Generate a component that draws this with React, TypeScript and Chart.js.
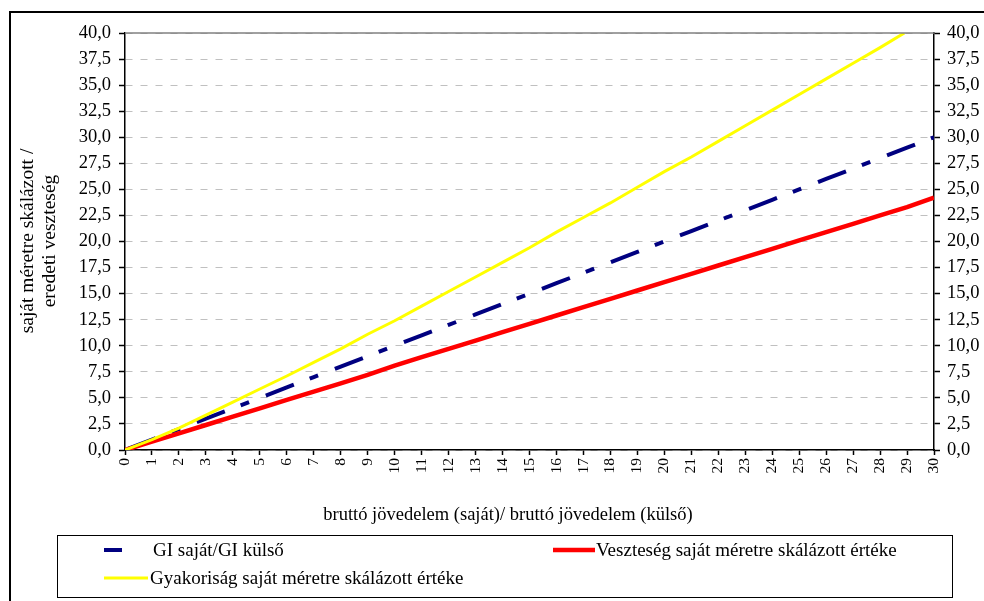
import React, { useEffect, useRef } from "react";
import { Chart, registerables } from "chart.js";

Chart.register(...registerables);

const W = 984;
const H = 601;
const SERIF = "'Liberation Serif', 'Times New Roman', serif";

// Own / external gross income ratio (x values)
const incomeRatio = [0, 1, 2, 3, 4, 5, 6, 7, 8, 9, 10, 11, 12, 13, 14, 15, 16, 17, 18, 19, 20, 21, 22, 23, 24, 25, 26, 27, 28, 29, 30];

// GI saját/GI külső
const giRatio = [0, 1, 2, 3, 4, 5, 6, 7, 8, 9, 10, 11, 12, 13, 14, 15, 16, 17, 18, 19, 20, 21, 22, 23, 24, 25, 26, 27, 28, 29, 30];

// Veszteség saját méretre skálázott értéke
const lossScaled = [0, 0.8, 1.6, 2.4, 3.2, 4.0, 4.8, 5.6, 6.4, 7.2, 8.1, 8.9, 9.7, 10.5, 11.3, 12.1, 12.9, 13.7, 14.5, 15.3, 16.1, 16.9, 17.7, 18.5, 19.3, 20.1, 20.9, 21.7, 22.5, 23.3, 24.2];

// Gyakoriság saját méretre skálázott értéke (reaches the top of the axis just before 29)
const freqRatio = [0, 1, 2, 3, 4, 5, 6, 7, 8, 9, 10, 11, 12, 13, 14, 15, 16, 17, 18, 19, 20, 21, 22, 23, 24, 25, 26, 27, 28, 28.9];
const freqScaled = [0, 1.0, 2.1, 3.35, 4.6, 5.85, 7.1, 8.4, 9.7, 11.1, 12.4, 13.8, 15.2, 16.6, 18.0, 19.4, 20.9, 22.3, 23.7, 25.2, 26.7, 28.1, 29.6, 31.1, 32.6, 34.1, 35.6, 37.1, 38.6, 40.0];

const seriesNames = [
  "GI saját/GI külső",
  "Veszteség saját méretre skálázott értéke",
  "Gyakoriság saját méretre skálázott értéke",
];
const seriesColors = ["#000080", "#ff0000", "#ffff00"];
const seriesWidths = [4, 4.5, 3];
const giDash = [30, 17, 9, 18];

const yMin = 0;
const yMax = 40;
const yStep = 2.5;
const xMin = 0;
const xMax = 30;
const xStep = 1;

const xTitle = "bruttó jövedelem (saját)/ bruttó jövedelem (külső)";
const yTitleLines = ["saját méretre skálázott /", "eredeti veszteség"];

const toPoints = (xs: number[], ys: number[]) => xs.map((x, i) => ({ x, y: ys[i] }));
const commaDecimal = (v: number | string) => Number(v).toFixed(1).replace(".", ",");

// Frame, plot-area top edge, axis titles and the boxed legend
const decorations = {
  id: "decorations",
  afterDraw(chart: any) {
    const { ctx, chartArea } = chart;
    ctx.save();

    // outer chart frame
    ctx.strokeStyle = "#000";
    ctx.lineWidth = 2;
    ctx.beginPath();
    ctx.moveTo(10, H);
    ctx.lineTo(10, 12);
    ctx.lineTo(W, 12);
    ctx.stroke();

    // plot area top edge
    ctx.strokeStyle = "#808080";
    ctx.lineWidth = 1.5;
    ctx.beginPath();
    ctx.moveTo(chartArea.left, chartArea.top);
    ctx.lineTo(chartArea.right, chartArea.top);
    ctx.stroke();

    // axis titles
    ctx.fillStyle = "#000";
    ctx.textAlign = "center";
    ctx.textBaseline = "middle";
    ctx.font = `18.5px ${SERIF}`;
    ctx.fillText(xTitle, 508, 515);

    ctx.save();
    ctx.font = `19.5px ${SERIF}`;
    ctx.translate(28, 241);
    ctx.rotate(-Math.PI / 2);
    ctx.fillText(yTitleLines[0], 0, 0);
    ctx.fillText(yTitleLines[1], 0, 22);
    ctx.restore();

    // legend box
    ctx.strokeStyle = "#000";
    ctx.lineWidth = 1;
    ctx.strokeRect(57.5, 535.5, 895, 62);

    const items = [
      { x: 104, y: 550, len: 42, text: 153 },
      { x: 553, y: 550, len: 42, text: 596 },
      { x: 104, y: 578, len: 44, text: 150 },
    ];
    ctx.textAlign = "left";
    ctx.font = `19px ${SERIF}`;
    items.forEach((it, i) => {
      ctx.save();
      ctx.strokeStyle = seriesColors[i];
      ctx.lineWidth = seriesWidths[i];
      ctx.lineCap = "butt";
      if (i === 0) ctx.setLineDash([18, 100]);
      ctx.beginPath();
      ctx.moveTo(it.x, it.y);
      ctx.lineTo(it.x + it.len, it.y);
      ctx.stroke();
      ctx.restore();
      ctx.fillStyle = "#000";
      ctx.fillText(seriesNames[i], it.text, it.y + 1);
    });

    ctx.restore();
  },
};

export default function App() {
  const canvasRef = useRef<HTMLCanvasElement | null>(null);

  useEffect(() => {
    const canvas = canvasRef.current;
    if (!canvas) return;

    const chart = new Chart(canvas, {
      type: "line",
      data: {
        datasets: [
          {
            label: seriesNames[0],
            data: toPoints(incomeRatio, giRatio),
            borderColor: seriesColors[0],
            borderWidth: seriesWidths[0],
            borderDash: giDash,
            borderDashOffset: 71,
            borderCapStyle: "butt",
            pointRadius: 0,
            tension: 0,
            order: 2,
          },
          {
            label: seriesNames[1],
            data: toPoints(incomeRatio, lossScaled),
            borderColor: seriesColors[1],
            borderWidth: seriesWidths[1],
            pointRadius: 0,
            tension: 0,
            order: 1,
          },
          {
            label: seriesNames[2],
            data: toPoints(freqRatio, freqScaled),
            borderColor: seriesColors[2],
            borderWidth: seriesWidths[2],
            pointRadius: 0,
            tension: 0,
            order: 0,
          },
        ],
      },
      options: {
        responsive: false,
        animation: false,
        events: [],
        layout: { padding: { left: 55, top: 33, right: 0, bottom: 0 } },
        plugins: {
          legend: { display: false },
          tooltip: { enabled: false },
          title: { display: false },
        },
        scales: {
          x: {
            type: "linear",
            min: xMin,
            max: xMax,
            afterFit: (s: any) => {
              s.height = 151;
            },
            ticks: {
              stepSize: xStep,
              autoSkip: false,
              minRotation: 90,
              maxRotation: 90,
              padding: 3,
              color: "#000",
              font: { family: SERIF, size: 15.5 },
            },
            grid: {
              drawOnChartArea: false,
              drawTicks: true,
              tickLength: 5,
              tickColor: "#000",
              tickWidth: 1.5,
            },
            border: { color: "#000", width: 1.5 },
          },
          y: {
            type: "linear",
            position: "left",
            min: yMin,
            max: yMax,
            afterFit: (s: any) => {
              s.width = 70;
            },
            ticks: {
              stepSize: yStep,
              autoSkip: false,
              padding: 8,
              color: "#000",
              font: { family: SERIF, size: 18.5 },
              callback: (v: any) => commaDecimal(v),
            },
            grid: {
              color: "#c0c0c0",
              lineWidth: 1,
              drawTicks: true,
              tickLength: 6,
              tickColor: "#000",
              tickWidth: 1.5,
            },
            border: { color: "#000", width: 1.5, dash: [7, 8] },
          },
          y2: {
            type: "linear",
            position: "right",
            min: yMin,
            max: yMax,
            afterFit: (s: any) => {
              s.width = 50;
            },
            ticks: {
              stepSize: yStep,
              autoSkip: false,
              padding: 7,
              color: "#000",
              font: { family: SERIF, size: 18.5 },
              callback: (v: any) => commaDecimal(v),
            },
            grid: {
              drawOnChartArea: false,
              drawTicks: true,
              tickLength: 6,
              tickColor: "#000",
              tickWidth: 1.5,
            },
            border: { color: "#000", width: 1.5 },
          },
        },
      },
      plugins: [decorations],
    } as any);

    return () => chart.destroy();
  }, []);

  return (
    <div style={{ position: "absolute", left: 0, top: 0, width: W, height: H, background: "#fff" }}>
      <canvas ref={canvasRef} width={W} height={H} style={{ display: "block" }} />
    </div>
  );
}
